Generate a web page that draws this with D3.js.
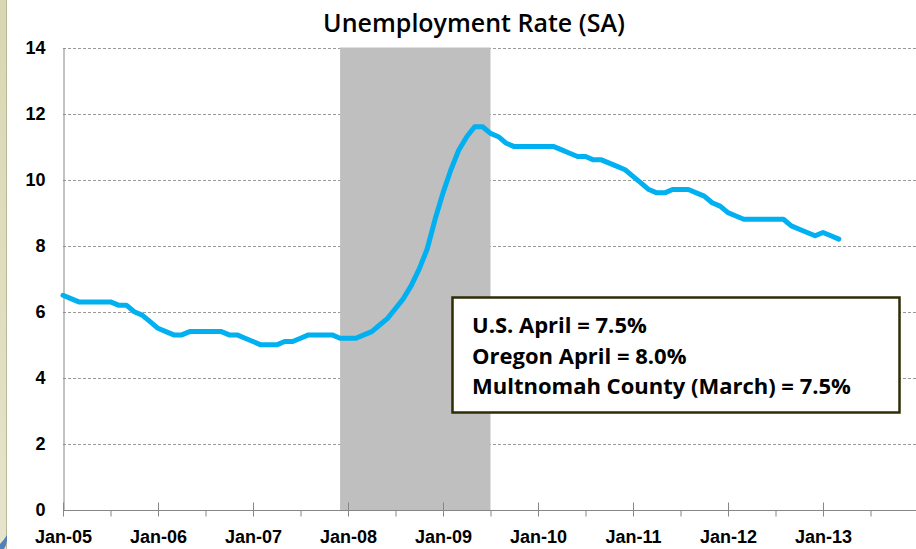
<!DOCTYPE html>
<html>
<head>
<meta charset="utf-8">
<script src="https://cdn.jsdelivr.net/npm/d3@7"></script>
<style>
  body { margin: 0; background: #fff; }
  svg { display: block; font-family: "Open Sans", "DejaVu Sans", sans-serif; }
</style>
</head>
<body>
<div id="chart"></div>
<script>
// Oregon unemployment rate, seasonally adjusted, monthly from Jan-05
const startLabel = 'Jan-05';
const rates = [
  6.5, 6.4, 6.3, 6.3, 6.3, 6.3, 6.3, 6.2, 6.2, 6.0, 5.9, 5.7,
  5.5, 5.4, 5.3, 5.3, 5.4, 5.4, 5.4, 5.4, 5.4, 5.3, 5.3, 5.2,
  5.1, 5.0, 5.0, 5.0, 5.1, 5.1, 5.2, 5.3, 5.3, 5.3, 5.3, 5.2,
  5.2, 5.2, 5.3, 5.4, 5.6, 5.8, 6.1, 6.4, 6.8, 7.3, 7.9, 8.8,
  9.6, 10.3, 10.9, 11.3, 11.6, 11.6, 11.4, 11.3, 11.1, 11.0, 11.0, 11.0,
  11.0, 11.0, 11.0, 10.9, 10.8, 10.7, 10.7, 10.6, 10.6, 10.5, 10.4, 10.3,
  10.1, 9.9, 9.7, 9.6, 9.6, 9.7, 9.7, 9.7, 9.6, 9.5, 9.3, 9.2,
  9.0, 8.9, 8.8, 8.8, 8.8, 8.8, 8.8, 8.8, 8.6, 8.5, 8.4, 8.3,
  8.4, 8.3, 8.2
];
// recession shading, month index (Dec-07 .. Jul-09)
const recession = [35, 54];
const xLabels = ['Jan-05', 'Jan-06', 'Jan-07', 'Jan-08', 'Jan-09', 'Jan-10', 'Jan-11', 'Jan-12', 'Jan-13'];
const yTicks = [0, 2, 4, 6, 8, 10, 12, 14];
const notes = ['U.S. April = 7.5%', 'Oregon April = 8.0%', 'Multnomah County (March) = 7.5%'];
const title = 'Unemployment Rate (SA)';

const width = 916, height = 549;
const margin = { left: 63, top: 47.5, bottom: 39 };

const svg = d3.select('#chart')
  .append('svg')
  .attr('width', width)
  .attr('height', height);

// Set scale of x-ax (months since Jan-05)
const xScale = d3.scaleLinear()
  .domain([0, 108])
  .range([margin.left, 918]);

// Set scale of y-ax
const yScale = d3.scaleLinear()
  .domain([0, 14])
  .range([height - margin.bottom, margin.top]);

// Slide decoration on the left edge
const grad = svg.append('defs').append('linearGradient')
  .attr('id', 'side').attr('x1', 0).attr('x2', 0).attr('y1', 0).attr('y2', 1);
grad.append('stop').attr('offset', 0).attr('stop-color', '#d9d7b2');
grad.append('stop').attr('offset', 1).attr('stop-color', '#e6e4cb');
svg.append('rect')
  .attr('x', 0).attr('y', 0).attr('width', 6).attr('height', height)
  .attr('fill', 'url(#side)');
svg.append('line')
  .attr('x1', 6.5).attr('x2', 6.5).attr('y1', 0).attr('y2', height)
  .attr('stroke', '#b9b795').attr('stroke-width', 1);
svg.append('path')
  .attr('d', 'M0,549 L0,544 Q4,540 7,535 L7,541 Q6,546 4,549 Z')
  .attr('fill', '#4f81bd');

// Gridlines
svg.append('g')
  .selectAll('line')
  .data(yTicks.filter(d => d > 0))
  .enter()
  .append('line')
    .attr('x1', margin.left)
    .attr('x2', width)
    .attr('y1', d => Math.round(yScale(d)) + 0.5)
    .attr('y2', d => Math.round(yScale(d)) + 0.5)
    .attr('stroke', '#9a9a9a')
    .attr('stroke-dasharray', '3,2');

// Recession band
svg.append('rect')
  .attr('x', xScale(recession[0]))
  .attr('y', yScale(14))
  .attr('width', xScale(recession[1]) - xScale(recession[0]))
  .attr('height', yScale(0) - yScale(14))
  .attr('fill', '#bfbfbf');

// Show y-ax
const yAxis = svg.append('g')
  .attr('transform', 'translate(' + (margin.left + 0.5) + ',0)')
  .call(d3.axisLeft(yScale).tickValues(yTicks).tickSize(0).tickPadding(18));
yAxis.select('.domain').attr('stroke', '#868686');
yAxis.selectAll('text')
  .attr('font-size', 18)
  .attr('font-weight', 'bold')
  .attr('fill', '#000');

// Show x-ax: minor ticks every six months, major ticks every year
const xAxisY = Math.round(yScale(0)) + 0.5;
const minor = svg.append('g')
  .attr('transform', 'translate(0,' + xAxisY + ')')
  .call(d3.axisBottom(xScale).tickValues(d3.range(6, 108, 12)).tickSize(6).tickFormat(''));
minor.select('.domain').remove();
minor.selectAll('line').attr('stroke', '#868686');

const major = svg.append('g')
  .attr('transform', 'translate(0,' + xAxisY + ')')
  .call(d3.axisBottom(xScale)
    .tickValues(xLabels.map((d, i) => i * 12))
    .tickSizeOuter(0)
    .tickSize(6)
    .tickPadding(14)
    .tickFormat((d, i) => xLabels[i]));
major.select('.domain')
  .attr('d', 'M' + margin.left + ',0H' + width)
  .attr('stroke', '#868686');
major.selectAll('line')
  .attr('y1', -8)
  .attr('y2', 6)
  .attr('stroke', '#868686');
major.selectAll('text')
  .attr('font-size', 18)
  .attr('font-weight', 'bold')
  .attr('fill', '#000');

// Rate line
const line = d3.line()
  .x((d, i) => xScale(i))
  .y(d => yScale(d));

svg.append('path')
  .datum(rates)
  .attr('d', line)
  .attr('fill', 'none')
  .attr('stroke', '#00b0f0')
  .attr('stroke-width', 5)
  .attr('stroke-linejoin', 'round')
  .attr('stroke-linecap', 'round');

// Title
svg.append('text')
  .attr('x', 474)
  .attr('y', 32)
  .attr('text-anchor', 'middle')
  .attr('font-size', 25)
  .attr('font-weight', 600)
  .attr('fill', '#000')
  .text(title);

// Note box
const box = svg.append('g');
box.append('rect')
  .attr('x', 452.5).attr('y', 297.5)
  .attr('width', 447).attr('height', 115)
  .attr('fill', '#fff')
  .attr('stroke', '#2e2d06')
  .attr('stroke-width', 2.5);
box.selectAll('text')
  .data(notes)
  .enter()
  .append('text')
    .attr('x', 472)
    .attr('y', (d, i) => 333 + i * 30.5)
    .attr('font-size', 22)
    .attr('font-weight', 'bold')
    .attr('fill', '#000')
    .text(d => d);
</script>
</body>
</html>
